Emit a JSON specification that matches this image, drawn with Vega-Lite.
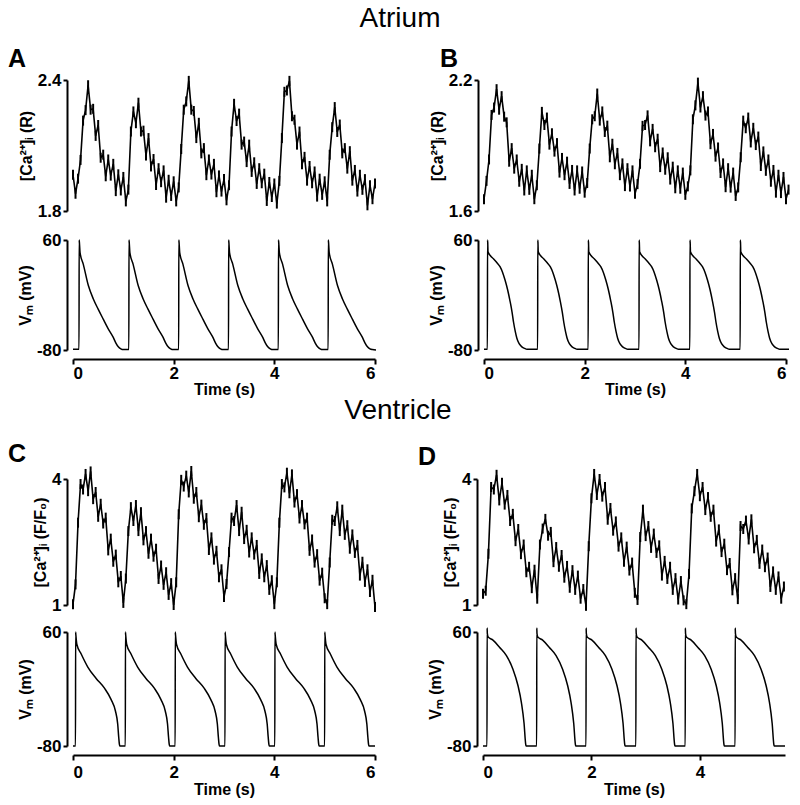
{
"$schema": "https://vega.github.io/schema/vega-lite/v6.json",
"background": "white",
"padding": {"left": 8, "top": 5, "right": 4, "bottom": 2},
"config": {
 "view": {"stroke": null},
 "font": "Liberation Sans",
 "axis": {"domainColor": "#000", "domainWidth": 2, "tickColor": "#000", "tickWidth": 2, "tickSize": 4, "labelFont": "Liberation Sans", "labelFontSize": 17, "labelFontWeight": "bold", "labelColor": "#000", "labelPadding": 2, "titleFont": "Liberation Sans", "titleFontSize": 16, "titleFontWeight": "bold", "titleColor": "#000", "titlePadding": 3, "grid": false, "labelExpr": "'' + datum.value"},
 "axisX": {"labelPadding": 1, "titlePadding": 0, "tickSize": 5},
 "title": {"color": "#000", "font": "Liberation Sans"}
},
"datasets": {
 "ca": [
{"t":0,"a":1.966,"b":1.654,"c":1.02,"d":1.27},
{"t":0.05,"a":1.879,"b":1.738,"c":1.49,"d":1.34},
{"t":0.1,"a":1.948,"b":1.836,"c":2.96,"d":2.22},
{"t":0.15,"a":2.034,"b":2.040,"c":3.88,"d":3.81},
{"t":0.2,"a":2.214,"b":2.074,"c":3.75,"d":3.75},
{"t":0.25,"a":2.262,"b":2.158,"c":4.12,"d":4.10},
{"t":0.3,"a":2.376,"b":2.064,"c":3.71,"d":3.49},
{"t":0.35,"a":2.264,"b":2.126,"c":4.18,"d":3.91},
{"t":0.4,"a":2.268,"b":2.032,"c":3.52,"d":3.39},
{"t":0.45,"a":2.144,"b":2.006,"c":3.69,"d":3.62},
{"t":0.5,"a":2.194,"b":1.826,"c":3.10,"d":3.00},
{"t":0.55,"a":2.044,"b":1.888,"c":3.41,"d":3.17},
{"t":0.6,"a":2.058,"b":1.794,"c":2.94,"d":2.52},
{"t":0.65,"a":1.959,"b":1.836,"c":3.08,"d":2.81},
{"t":0.7,"a":2.036,"b":1.734,"c":2.30,"d":2.21},
{"t":0.75,"a":1.962,"b":1.793,"c":2.58,"d":2.44},
{"t":0.8,"a":2.016,"b":1.694,"c":2.03,"d":1.78},
{"t":0.85,"a":1.891,"b":1.786,"c":2.20,"d":1.91},
{"t":0.9,"a":1.968,"b":1.697,"c":1.54,"d":1.40},
{"t":0.95,"a":1.894,"b":1.766,"c":1.69,"d":1.84},
{"t":1.0,"a":1.956,"b":1.654,"c":1.05,"d":1.15},
{"t":1.05,"a":1.844,"b":1.718,"c":1.63,"d":2.44},
{"t":1.1,"a":1.898,"b":1.886,"c":2.76,"d":2.82},
{"t":1.15,"a":2.164,"b":2.054,"c":3.33,"d":3.05},
{"t":1.2,"a":2.256,"b":1.994,"c":3.00,"d":2.65},
{"t":1.25,"a":2.202,"b":2.028,"c":3.38,"d":2.74},
{"t":1.3,"a":2.296,"b":1.904,"c":2.76,"d":2.02},
{"t":1.35,"a":2.164,"b":1.956,"c":3.21,"d":2.38},
{"t":1.4,"a":2.168,"b":1.872,"c":2.54,"d":1.91},
{"t":1.45,"a":2.054,"b":1.911,"c":2.76,"d":2.19},
{"t":1.5,"a":2.134,"b":1.776,"c":2.22,"d":1.65},
{"t":1.55,"a":2.004,"b":1.843,"c":2.58,"d":1.93},
{"t":1.6,"a":2.038,"b":1.764,"c":2.15,"d":1.41},
{"t":1.65,"a":1.919,"b":1.826,"c":2.34,"d":1.83},
{"t":1.7,"a":1.996,"b":1.724,"c":1.62,"d":1.36},
{"t":1.75,"a":1.932,"b":1.788,"c":1.94,"d":1.70},
{"t":1.8,"a":1.986,"b":1.694,"c":1.48,"d":1.15},
{"t":1.85,"a":1.861,"b":1.786,"c":1.78,"d":1.38},
{"t":1.9,"a":1.943,"b":1.702,"c":1.24,"d":0.98},
{"t":1.95,"a":1.869,"b":1.781,"c":1.52,"d":2.40},
{"t":2.0,"a":1.936,"b":1.684,"c":1.00,"d":3.54},
{"t":2.05,"a":1.844,"b":1.728,"c":1.54,"d":4.12},
{"t":2.1,"a":1.908,"b":1.886,"c":3.16,"d":3.62},
{"t":2.15,"a":2.084,"b":2.020,"c":3.98,"d":4.00},
{"t":2.2,"a":2.264,"b":2.034,"c":3.82,"d":3.58},
{"t":2.25,"a":2.302,"b":2.138,"c":4.08,"d":3.81},
{"t":2.3,"a":2.396,"b":2.014,"c":3.68,"d":3.03},
{"t":2.35,"a":2.264,"b":2.056,"c":4.19,"d":3.31},
{"t":2.4,"a":2.258,"b":1.962,"c":3.53,"d":2.77},
{"t":2.45,"a":2.134,"b":1.991,"c":3.69,"d":2.99},
{"t":2.5,"a":2.204,"b":1.846,"c":3.09,"d":2.39},
{"t":2.55,"a":2.064,"b":1.908,"c":3.39,"d":2.61},
{"t":2.6,"a":2.088,"b":1.814,"c":2.91,"d":2.03},
{"t":2.65,"a":1.964,"b":1.866,"c":3.07,"d":2.39},
{"t":2.7,"a":2.036,"b":1.764,"c":2.31,"d":1.82},
{"t":2.75,"a":1.967,"b":1.818,"c":2.61,"d":2.01},
{"t":2.8,"a":2.016,"b":1.714,"c":2.08,"d":1.29},
{"t":2.85,"a":1.886,"b":1.796,"c":2.29,"d":1.12},
{"t":2.9,"a":1.963,"b":1.712,"c":1.66,"d":2.62},
{"t":2.95,"a":1.889,"b":1.786,"c":1.85,"d":3.27},
{"t":3.0,"a":1.946,"b":1.679,"c":1.19,"d":2.64},
{"t":3.05,"a":1.849,"b":1.723,"c":1.50,"d":2.88},
{"t":3.1,"a":1.918,"b":1.816,"c":2.26,"d":2.36},
{"t":3.15,"a":2.164,"b":1.990,"c":3.08,"d":2.70},
{"t":3.2,"a":2.291,"b":1.994,"c":3.00,"d":2.24},
{"t":3.25,"a":2.212,"b":2.038,"c":3.38,"d":2.42},
{"t":3.3,"a":2.246,"b":1.919,"c":2.76,"d":1.70},
{"t":3.35,"a":2.104,"b":1.976,"c":3.22,"d":2.05},
{"t":3.4,"a":2.118,"b":1.892,"c":2.57,"d":1.62},
{"t":3.45,"a":2.024,"b":1.931,"c":2.79,"d":1.91},
{"t":3.5,"a":2.104,"b":1.801,"c":2.25,"d":1.36},
{"t":3.55,"a":1.979,"b":1.868,"c":2.61,"d":1.64},
{"t":3.6,"a":2.023,"b":1.789,"c":2.20,"d":1.13},
{"t":3.65,"a":1.924,"b":1.846,"c":2.43,"d":1.57},
{"t":3.7,"a":1.996,"b":1.744,"c":1.74,"d":1.11},
{"t":3.75,"a":1.927,"b":1.803,"c":2.11,"d":1.02},
{"t":3.8,"a":1.971,"b":1.704,"c":1.66,"d":1.74},
{"t":3.85,"a":1.846,"b":1.786,"c":1.95,"d":3.30},
{"t":3.9,"a":1.933,"b":1.702,"c":1.36,"d":3.71},
{"t":3.95,"a":1.864,"b":1.776,"c":1.59,"d":4.12},
{"t":4.0,"a":1.926,"b":1.674,"c":1.02,"d":3.59},
{"t":4.05,"a":1.834,"b":1.713,"c":1.54,"d":3.81},
{"t":4.1,"a":1.938,"b":1.786,"c":2.96,"d":3.26},
{"t":4.15,"a":2.134,"b":2.020,"c":3.88,"d":3.57},
{"t":4.2,"a":2.346,"b":2.084,"c":3.80,"d":3.10},
{"t":4.25,"a":2.352,"b":2.188,"c":4.15,"d":3.27},
{"t":4.3,"a":2.396,"b":2.074,"c":3.66,"d":2.51},
{"t":4.35,"a":2.234,"b":2.126,"c":4.11,"d":2.80},
{"t":4.4,"a":2.218,"b":2.037,"c":3.44,"d":2.26},
{"t":4.45,"a":2.104,"b":2.056,"c":3.64,"d":2.46},
{"t":4.5,"a":2.164,"b":1.906,"c":3.06,"d":1.83},
{"t":4.55,"a":2.014,"b":1.953,"c":3.38,"d":2.00},
{"t":4.6,"a":2.048,"b":1.849,"c":2.92,"d":1.35},
{"t":4.65,"a":1.939,"b":1.891,"c":3.08,"d":1.64},
{"t":4.7,"a":2.006,"b":1.774,"c":2.29,"d":1.14},
{"t":4.75,"a":1.927,"b":1.818,"c":2.56,"d":2.88},
{"t":4.8,"a":1.981,"b":1.709,"c":2.01,"d":2.81},
{"t":4.85,"a":1.866,"b":1.796,"c":2.21,"d":3.01},
{"t":4.9,"a":1.948,"b":1.707,"c":1.58,"d":2.56},
{"t":4.95,"a":1.874,"b":1.776,"c":1.77,"d":3.04},
{"t":5.0,"a":1.936,"b":1.669,"c":1.16,"d":2.35},
{"t":5.05,"a":1.844,"b":1.708,"c":1.02,"d":2.55},
{"t":5.1,"a":2.058,"b":1.846,"c":2.01,"d":1.98},
{"t":5.15,"a":2.184,"b":2.014,"c":3.03,"d":2.32},
{"t":5.2,"a":2.276,"b":1.979,"c":3.00,"d":1.90},
{"t":5.25,"a":2.162,"b":2.028,"c":3.35,"d":2.13},
{"t":5.3,"a":2.196,"b":1.914,"c":2.76,"d":1.43},
{"t":5.35,"a":2.064,"b":1.981,"c":3.27,"d":1.80},
{"t":5.4,"a":2.088,"b":1.902,"c":2.67,"d":1.36},
{"t":5.45,"a":1.994,"b":1.941,"c":2.90,"d":1.68},
{"t":5.5,"a":2.074,"b":1.806,"c":2.34,"d":1.15},
{"t":5.55,"a":1.939,"b":1.873,"c":2.68,"d":1.44},
{"t":5.6,"a":1.988,"b":1.784,"c":2.24},
{"t":5.65,"a":1.889,"b":1.836,"c":2.43},
{"t":5.7,"a":1.966,"b":1.734,"c":1.70},
{"t":5.75,"a":1.897,"b":1.788,"c":2.03},
{"t":5.8,"a":1.946,"b":1.684,"c":1.55},
{"t":5.85,"a":1.826,"b":1.766,"c":1.85},
{"t":5.9,"a":1.918,"b":1.682,"c":1.31},
{"t":5.95,"a":1.854,"b":1.756,"c":1.60},
{"t":6.0,"a":1.926,"b":1.654,"c":0.95},
{"t":6.05,"b":1.698}
 ],
 "va": [
{"t":0,"v":-79},{"t":0.12,"v":-79},
{"t":0.122,"v":60},{"t":0.127,"v":57},{"t":0.14,"v":44},{"t":0.205,"v":29},{"t":0.305,"v":2},{"t":0.404,"v":-15},{"t":0.5,"v":-28},{"t":0.603,"v":-41},{"t":0.7,"v":-53},{"t":0.8,"v":-64},{"t":0.85,"v":-71},{"t":0.9,"v":-76},{"t":0.95,"v":-78.5},{"t":1.0,"v":-79.5},{"t":1.11,"v":-79.5},
{"t":1.112,"v":60},{"t":1.117,"v":57},{"t":1.13,"v":44},{"t":1.195,"v":29},{"t":1.295,"v":2},{"t":1.394,"v":-15},{"t":1.49,"v":-28},{"t":1.593,"v":-41},{"t":1.69,"v":-53},{"t":1.79,"v":-64},{"t":1.84,"v":-71},{"t":1.89,"v":-76},{"t":1.94,"v":-78.5},{"t":1.99,"v":-79.5},{"t":2.1,"v":-79.5},
{"t":2.102,"v":60},{"t":2.107,"v":57},{"t":2.12,"v":44},{"t":2.185,"v":29},{"t":2.285,"v":2},{"t":2.384,"v":-15},{"t":2.48,"v":-28},{"t":2.583,"v":-41},{"t":2.68,"v":-53},{"t":2.78,"v":-64},{"t":2.83,"v":-71},{"t":2.88,"v":-76},{"t":2.93,"v":-78.5},{"t":2.98,"v":-79.5},{"t":3.09,"v":-79.5},
{"t":3.092,"v":60},{"t":3.097,"v":57},{"t":3.11,"v":44},{"t":3.175,"v":29},{"t":3.275,"v":2},{"t":3.374,"v":-15},{"t":3.47,"v":-28},{"t":3.573,"v":-41},{"t":3.67,"v":-53},{"t":3.77,"v":-64},{"t":3.82,"v":-71},{"t":3.87,"v":-76},{"t":3.92,"v":-78.5},{"t":3.97,"v":-79.5},{"t":4.08,"v":-79.5},
{"t":4.082,"v":60},{"t":4.087,"v":57},{"t":4.1,"v":44},{"t":4.165,"v":29},{"t":4.265,"v":2},{"t":4.364,"v":-15},{"t":4.46,"v":-28},{"t":4.563,"v":-41},{"t":4.66,"v":-53},{"t":4.76,"v":-64},{"t":4.81,"v":-71},{"t":4.86,"v":-76},{"t":4.91,"v":-78.5},{"t":4.96,"v":-79.5},{"t":5.07,"v":-79.5},
{"t":5.072,"v":60},{"t":5.077,"v":57},{"t":5.09,"v":44},{"t":5.155,"v":29},{"t":5.255,"v":2},{"t":5.354,"v":-15},{"t":5.45,"v":-28},{"t":5.553,"v":-41},{"t":5.65,"v":-53},{"t":5.75,"v":-64},{"t":5.8,"v":-71},{"t":5.85,"v":-76},{"t":5.9,"v":-78.5},{"t":5.95,"v":-79.5},{"t":6.02,"v":-80}
 ],
 "vb": [
{"t":0,"v":-79},{"t":0.068,"v":-79},
{"t":0.07,"v":60},{"t":0.074,"v":57},{"t":0.08,"v":45},{"t":0.128,"v":40},{"t":0.188,"v":36},{"t":0.258,"v":31},{"t":0.318,"v":26},{"t":0.368,"v":19},{"t":0.418,"v":9},{"t":0.468,"v":-3},{"t":0.518,"v":-18},{"t":0.558,"v":-32},{"t":0.588,"v":-45},{"t":0.623,"v":-57},{"t":0.653,"v":-65},{"t":0.698,"v":-72},{"t":0.753,"v":-76},{"t":0.808,"v":-78},{"t":0.853,"v":-79},{"t":1.066,"v":-79},
{"t":1.068,"v":60},{"t":1.072,"v":57},{"t":1.078,"v":45},{"t":1.126,"v":40},{"t":1.186,"v":36},{"t":1.256,"v":31},{"t":1.316,"v":26},{"t":1.366,"v":19},{"t":1.416,"v":9},{"t":1.466,"v":-3},{"t":1.516,"v":-18},{"t":1.556,"v":-32},{"t":1.586,"v":-45},{"t":1.621,"v":-57},{"t":1.651,"v":-65},{"t":1.696,"v":-72},{"t":1.751,"v":-76},{"t":1.806,"v":-78},{"t":1.851,"v":-79},{"t":2.07,"v":-79},
{"t":2.072,"v":60},{"t":2.076,"v":57},{"t":2.082,"v":45},{"t":2.13,"v":40},{"t":2.19,"v":36},{"t":2.26,"v":31},{"t":2.32,"v":26},{"t":2.37,"v":19},{"t":2.42,"v":9},{"t":2.47,"v":-3},{"t":2.52,"v":-18},{"t":2.56,"v":-32},{"t":2.59,"v":-45},{"t":2.625,"v":-57},{"t":2.655,"v":-65},{"t":2.7,"v":-72},{"t":2.755,"v":-76},{"t":2.81,"v":-78},{"t":2.855,"v":-79},{"t":3.08,"v":-79},
{"t":3.082,"v":60},{"t":3.086,"v":57},{"t":3.092,"v":45},{"t":3.14,"v":40},{"t":3.2,"v":36},{"t":3.27,"v":31},{"t":3.33,"v":26},{"t":3.38,"v":19},{"t":3.43,"v":9},{"t":3.48,"v":-3},{"t":3.53,"v":-18},{"t":3.57,"v":-32},{"t":3.6,"v":-45},{"t":3.635,"v":-57},{"t":3.665,"v":-65},{"t":3.71,"v":-72},{"t":3.765,"v":-76},{"t":3.82,"v":-78},{"t":3.865,"v":-79},{"t":4.09,"v":-79},
{"t":4.092,"v":60},{"t":4.096,"v":57},{"t":4.102,"v":45},{"t":4.15,"v":40},{"t":4.21,"v":36},{"t":4.28,"v":31},{"t":4.34,"v":26},{"t":4.39,"v":19},{"t":4.44,"v":9},{"t":4.49,"v":-3},{"t":4.54,"v":-18},{"t":4.58,"v":-32},{"t":4.61,"v":-45},{"t":4.645,"v":-57},{"t":4.675,"v":-65},{"t":4.72,"v":-72},{"t":4.775,"v":-76},{"t":4.83,"v":-78},{"t":4.875,"v":-79},{"t":5.09,"v":-79},
{"t":5.092,"v":60},{"t":5.096,"v":57},{"t":5.102,"v":45},{"t":5.15,"v":40},{"t":5.21,"v":36},{"t":5.28,"v":31},{"t":5.34,"v":26},{"t":5.39,"v":19},{"t":5.44,"v":9},{"t":5.49,"v":-3},{"t":5.54,"v":-18},{"t":5.58,"v":-32},{"t":5.61,"v":-45},{"t":5.645,"v":-57},{"t":5.675,"v":-65},{"t":5.72,"v":-72},{"t":5.775,"v":-76},{"t":5.83,"v":-78},{"t":5.875,"v":-79},{"t":6.06,"v":-79}
 ],
 "vc": [
{"t":0,"v":-80},{"t":0.05,"v":-80},
{"t":0.052,"v":60},{"t":0.056,"v":57},{"t":0.076,"v":45},{"t":0.163,"v":33},{"t":0.294,"v":17},{"t":0.46,"v":3},{"t":0.625,"v":-9},{"t":0.758,"v":-23},{"t":0.843,"v":-37},{"t":0.888,"v":-53},{"t":0.908,"v":-69},{"t":0.922,"v":-78},{"t":0.93,"v":-80},{"t":1.04,"v":-80},
{"t":1.042,"v":60},{"t":1.046,"v":57},{"t":1.066,"v":45},{"t":1.153,"v":33},{"t":1.284,"v":17},{"t":1.45,"v":3},{"t":1.615,"v":-9},{"t":1.748,"v":-23},{"t":1.833,"v":-37},{"t":1.878,"v":-53},{"t":1.898,"v":-69},{"t":1.912,"v":-78},{"t":1.92,"v":-80},{"t":2.03,"v":-80},
{"t":2.032,"v":60},{"t":2.036,"v":57},{"t":2.056,"v":45},{"t":2.143,"v":33},{"t":2.274,"v":17},{"t":2.44,"v":3},{"t":2.605,"v":-9},{"t":2.738,"v":-23},{"t":2.823,"v":-37},{"t":2.868,"v":-53},{"t":2.888,"v":-69},{"t":2.902,"v":-78},{"t":2.91,"v":-80},{"t":3.02,"v":-80},
{"t":3.022,"v":60},{"t":3.026,"v":57},{"t":3.046,"v":45},{"t":3.133,"v":33},{"t":3.264,"v":17},{"t":3.43,"v":3},{"t":3.595,"v":-9},{"t":3.728,"v":-23},{"t":3.813,"v":-37},{"t":3.858,"v":-53},{"t":3.878,"v":-69},{"t":3.892,"v":-78},{"t":3.9,"v":-80},{"t":4.01,"v":-80},
{"t":4.012,"v":60},{"t":4.016,"v":57},{"t":4.036,"v":45},{"t":4.123,"v":33},{"t":4.254,"v":17},{"t":4.42,"v":3},{"t":4.585,"v":-9},{"t":4.718,"v":-23},{"t":4.803,"v":-37},{"t":4.848,"v":-53},{"t":4.868,"v":-69},{"t":4.882,"v":-78},{"t":4.89,"v":-80},{"t":5.0,"v":-80},
{"t":5.002,"v":60},{"t":5.006,"v":57},{"t":5.026,"v":45},{"t":5.113,"v":33},{"t":5.244,"v":17},{"t":5.41,"v":3},{"t":5.575,"v":-9},{"t":5.708,"v":-23},{"t":5.793,"v":-37},{"t":5.838,"v":-53},{"t":5.858,"v":-69},{"t":5.872,"v":-78},{"t":5.88,"v":-80},{"t":6.0,"v":-80}
 ],
 "vd": [
{"t":0,"v":-80},{"t":0.074,"v":-80},
{"t":0.076,"v":65},{"t":0.08,"v":58},{"t":0.094,"v":54},{"t":0.184,"v":50},{"t":0.308,"v":41},{"t":0.432,"v":31},{"t":0.554,"v":14},{"t":0.646,"v":-6},{"t":0.709,"v":-27},{"t":0.757,"v":-52},{"t":0.788,"v":-78},{"t":0.794,"v":-80},{"t":0.99,"v":-80},
{"t":0.992,"v":65},{"t":0.996,"v":58},{"t":1.01,"v":54},{"t":1.1,"v":50},{"t":1.224,"v":41},{"t":1.348,"v":31},{"t":1.47,"v":14},{"t":1.562,"v":-6},{"t":1.625,"v":-27},{"t":1.673,"v":-52},{"t":1.704,"v":-78},{"t":1.71,"v":-80},{"t":1.9,"v":-80},
{"t":1.902,"v":65},{"t":1.906,"v":58},{"t":1.92,"v":54},{"t":2.01,"v":50},{"t":2.134,"v":41},{"t":2.258,"v":31},{"t":2.38,"v":14},{"t":2.472,"v":-6},{"t":2.535,"v":-27},{"t":2.583,"v":-52},{"t":2.614,"v":-78},{"t":2.62,"v":-80},{"t":2.82,"v":-80},
{"t":2.822,"v":65},{"t":2.826,"v":58},{"t":2.84,"v":54},{"t":2.93,"v":50},{"t":3.054,"v":41},{"t":3.178,"v":31},{"t":3.3,"v":14},{"t":3.392,"v":-6},{"t":3.455,"v":-27},{"t":3.503,"v":-52},{"t":3.534,"v":-78},{"t":3.54,"v":-80},{"t":3.73,"v":-80},
{"t":3.732,"v":65},{"t":3.736,"v":58},{"t":3.75,"v":54},{"t":3.84,"v":50},{"t":3.964,"v":41},{"t":4.088,"v":31},{"t":4.21,"v":14},{"t":4.302,"v":-6},{"t":4.365,"v":-27},{"t":4.413,"v":-52},{"t":4.444,"v":-78},{"t":4.45,"v":-80},{"t":4.65,"v":-80},
{"t":4.652,"v":65},{"t":4.656,"v":58},{"t":4.67,"v":54},{"t":4.76,"v":50},{"t":4.884,"v":41},{"t":5.008,"v":31},{"t":5.13,"v":14},{"t":5.222,"v":-6},{"t":5.285,"v":-27},{"t":5.333,"v":-52},{"t":5.364,"v":-78},{"t":5.37,"v":-80},{"t":5.57,"v":-80}
 ]
},
"spacing": 0,
"vconcat": [
 {
  "title": {"text": "Atrium", "fontSize": 28, "fontWeight": "normal", "anchor": "middle", "offset": 14},
  "columns": 2,
  "align": "each",
  "spacing": {"row": 12, "column": 48},
  "concat": [
   {
    "width": 302, "height": 131,
    "title": {"text": "A", "anchor": "start", "frame": "group", "dx": -65, "fontSize": 25, "fontWeight": "bold", "offset": -1},
    "data": {"name": "ca"},
    "encoding": {
     "x": {"field": "t", "type": "quantitative", "scale": {"domain": [0, 6], "nice": false}, "axis": null},
     "y": {"field": "a", "type": "quantitative", "scale": {"domain": [1.8, 2.4], "nice": false, "zero": false}, "axis": {"values": [1.8, 2.4], "labelExpr": "format(datum.value, '.1f')", "title": "[Ca²⁺]ᵢ (R)", "offset": 6}}
    },
    "layer": [
     {"mark": {"type": "line", "color": "#000", "strokeWidth": 1.6}},
     {"mark": {"type": "tick", "orient": "vertical", "color": "#000", "size": 10, "thickness": 2, "opacity": 1}}
    ]
   },
   {
    "width": 302, "height": 131,
    "title": {"text": "B", "anchor": "start", "frame": "group", "dx": -44, "fontSize": 25, "fontWeight": "bold", "offset": -1},
    "data": {"name": "ca"},
    "encoding": {
     "x": {"field": "t", "type": "quantitative", "scale": {"domain": [0, 6], "nice": false}, "axis": null},
     "y": {"field": "b", "type": "quantitative", "scale": {"domain": [1.6, 2.2], "nice": false, "zero": false}, "axis": {"values": [1.6, 2.2], "labelExpr": "format(datum.value, '.1f')", "title": "[Ca²⁺]ᵢ (R)", "offset": 6}}
    },
    "layer": [
     {"mark": {"type": "line", "color": "#000", "strokeWidth": 1.6}},
     {"mark": {"type": "tick", "orient": "vertical", "color": "#000", "size": 10, "thickness": 2, "opacity": 1}}
    ]
   },
   {
    "width": 302, "height": 110,
    "data": {"name": "va"},
    "mark": {"type": "line", "color": "#000", "strokeWidth": 1.5, "interpolate": "monotone"},
    "encoding": {
     "x": {"field": "t", "type": "quantitative", "scale": {"domain": [0, 6], "nice": false}, "axis": {"values": [0, 2, 4, 6], "title": "Time (s)", "offset": 9}},
     "y": {"field": "v", "type": "quantitative", "scale": {"domain": [-80, 60], "nice": false, "zero": false}, "axis": {"values": [-80, 60], "title": "Vₘ (mV)", "offset": 6}}
    }
   },
   {
    "width": 302, "height": 110,
    "data": {"name": "vb"},
    "mark": {"type": "line", "color": "#000", "strokeWidth": 1.5, "interpolate": "monotone"},
    "encoding": {
     "x": {"field": "t", "type": "quantitative", "scale": {"domain": [0, 6], "nice": false}, "axis": {"values": [0, 2, 4, 6], "title": "Time (s)", "offset": 9}},
     "y": {"field": "v", "type": "quantitative", "scale": {"domain": [-80, 60], "nice": false, "zero": false}, "axis": {"values": [-80, 60], "title": "Vₘ (mV)", "offset": 6}}
    }
   }
  ]
 },
 {
  "title": {"text": "Ventricle", "fontSize": 28, "fontWeight": "normal", "anchor": "middle", "offset": 17},
  "columns": 2,
  "align": "each",
  "spacing": {"row": 10, "column": 39},
  "concat": [
   {
    "width": 302, "height": 126,
    "title": {"text": "C", "anchor": "start", "frame": "group", "dx": -65, "fontSize": 25, "fontWeight": "bold", "offset": -1},
    "data": {"name": "ca"},
    "encoding": {
     "x": {"field": "t", "type": "quantitative", "scale": {"domain": [0, 6], "nice": false}, "axis": null},
     "y": {"field": "c", "type": "quantitative", "scale": {"domain": [1, 4], "nice": false, "zero": false}, "axis": {"values": [1, 4], "title": "[Ca²⁺]ᵢ (F/F₀)", "offset": 6}}
    },
    "layer": [
     {"mark": {"type": "line", "color": "#000", "strokeWidth": 1.6}},
     {"mark": {"type": "tick", "orient": "vertical", "color": "#000", "size": 10, "thickness": 2, "opacity": 1}}
    ]
   },
   {
    "width": 302, "height": 126,
    "title": {"text": "D", "anchor": "start", "frame": "group", "dx": -65, "fontSize": 25, "fontWeight": "bold", "offset": -1},
    "data": {"name": "ca"},
    "encoding": {
     "x": {"field": "t", "type": "quantitative", "scale": {"domain": [0, 5.57], "nice": false}, "axis": null},
     "y": {"field": "d", "type": "quantitative", "scale": {"domain": [1, 4], "nice": false, "zero": false}, "axis": {"values": [1, 4], "title": "[Ca²⁺]ᵢ (F/F₀)", "offset": 6}}
    },
    "layer": [
     {"mark": {"type": "line", "color": "#000", "strokeWidth": 1.6}},
     {"mark": {"type": "tick", "orient": "vertical", "color": "#000", "size": 10, "thickness": 2, "opacity": 1}}
    ]
   },
   {
    "width": 302, "height": 114,
    "data": {"name": "vc"},
    "mark": {"type": "line", "color": "#000", "strokeWidth": 1.5, "interpolate": "monotone"},
    "encoding": {
     "x": {"field": "t", "type": "quantitative", "scale": {"domain": [0, 6], "nice": false}, "axis": {"values": [0, 2, 4, 6], "title": "Time (s)", "offset": 9, "labelPadding": 4, "titlePadding": 1}},
     "y": {"field": "v", "type": "quantitative", "scale": {"domain": [-80, 60], "nice": false, "zero": false}, "axis": {"values": [-80, 60], "title": "Vₘ (mV)", "offset": 6}}
    }
   },
   {
    "width": 302, "height": 114,
    "data": {"name": "vd"},
    "mark": {"type": "line", "color": "#000", "strokeWidth": 1.5, "interpolate": "monotone"},
    "encoding": {
     "x": {"field": "t", "type": "quantitative", "scale": {"domain": [0, 5.57], "nice": false}, "axis": {"values": [0, 2, 4], "title": "Time (s)", "offset": 9, "labelPadding": 4, "titlePadding": 1}},
     "y": {"field": "v", "type": "quantitative", "scale": {"domain": [-80, 60], "nice": false, "zero": false}, "axis": {"values": [-80, 60], "title": "Vₘ (mV)", "offset": 6}}
    }
   }
  ]
 }
]
}
